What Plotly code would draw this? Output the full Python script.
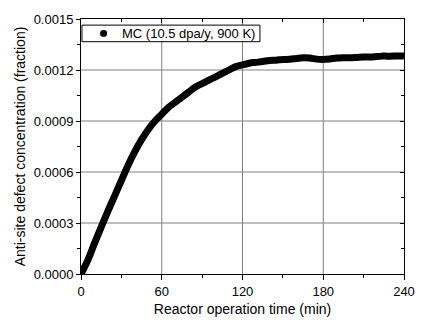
import plotly.graph_objects as go

# Monte Carlo anti-site defect concentration vs. reactor operation time
time_min = [0, 5, 10, 15, 20, 25, 30, 35, 40, 45, 50, 55, 60, 65, 70, 75, 80,
            85, 90, 95, 100, 105, 110, 115, 120, 125, 130, 135, 140, 145, 150,
            155, 160, 165, 170, 175, 180, 185, 190, 195, 200, 205, 210, 215,
            220, 225, 230, 235, 240]
antisite_frac = [0.0, 0.00008, 0.00018, 0.000276, 0.00037, 0.00046, 0.00055,
                 0.00064, 0.00072, 0.00079, 0.00085, 0.0009, 0.00094, 0.00098,
                 0.00101, 0.00104, 0.00107, 0.0011, 0.00112, 0.00114, 0.00116,
                 0.00118, 0.0012, 0.00122, 0.00123, 0.00124, 0.001245,
                 0.00125, 0.001256, 0.001258, 0.001262, 0.001263, 0.001268,
                 0.001272, 0.00127, 0.001264, 0.001262, 0.001265, 0.00127,
                 0.001272, 0.001272, 0.001274, 0.001276, 0.001276, 0.001279,
                 0.001282, 0.001281, 0.001283, 0.001282]

series_name = "MC (10.5 dpa/y, 900 K)"
x_ticks = [0, 60, 120, 180, 240]
x_minor = [30, 90, 150, 210]
y_ticks = [0.0, 0.0003, 0.0006, 0.0009, 0.0012, 0.0015]
y_minor = [0.00015, 0.00045, 0.00075, 0.00105, 0.00135]
y_tick_text = ["0.0000", "0.0003", "0.0006", "0.0009", "0.0012", "0.0015"]

FONT = "Liberation Sans, Arial, sans-serif"
GRID = "#808080"
X_RANGE = [0, 240]
Y_RANGE = [0, 0.0015]

fig = go.Figure()
fig.add_trace(go.Scatter(
    x=time_min, y=antisite_frac, mode="lines",
    line=dict(color="black", width=7, shape="spline", smoothing=1.0),
    showlegend=False, hoverinfo="skip",
))


def tick_axis(side, rng, vals, direction, length, overlay):
    """Label-free axis used only for extra tick marks."""
    return dict(overlaying=overlay, side=side, range=rng, tickvals=vals,
                showticklabels=False, showgrid=False, zeroline=False,
                showline=False, ticks=direction, ticklen=length,
                tickwidth=1, tickcolor="black")


fig.update_layout(
    width=432, height=335,
    margin=dict(l=81, r=28, t=17, b=61),
    paper_bgcolor="white", plot_bgcolor="rgba(0,0,0,0)",
    font=dict(family=FONT, color="black"),
    showlegend=False,
    xaxis=dict(
        range=X_RANGE, tickvals=x_ticks,
        showline=True, linecolor="black", linewidth=1, mirror=True,
        ticks="outside", ticklen=5, tickwidth=1, tickcolor="black",
        showgrid=False, zeroline=False,
        tickfont=dict(family=FONT, size=13, color="black"),
        title=dict(text="Reactor operation time (min)",
                   font=dict(family=FONT, size=14), standoff=6),
    ),
    yaxis=dict(
        range=Y_RANGE, tickvals=y_ticks, ticktext=y_tick_text,
        showline=True, linecolor="black", linewidth=1, mirror=True,
        ticks="outside", ticklen=4, tickwidth=1, tickcolor="black",
        showgrid=False, zeroline=False,
        tickfont=dict(family=FONT, size=13, color="black"),
        title=dict(text="Anti-site defect concentration (fraction)",
                   font=dict(family=FONT, size=14), standoff=4),
    ),
    # top / right major ticks, pointing inward
    xaxis2=tick_axis("top", X_RANGE, x_ticks, "inside", 4, "x"),
    yaxis2=tick_axis("right", Y_RANGE, y_ticks, "inside", 4, "y"),
    # bottom / left minor ticks, pointing outward
    xaxis3=tick_axis("bottom", X_RANGE, x_minor, "outside", 3, "x"),
    yaxis3=tick_axis("left", Y_RANGE, y_minor, "outside", 3, "y"),
    # top / right minor ticks, pointing inward
    xaxis4=tick_axis("top", X_RANGE, x_minor, "inside", 3, "x"),
    yaxis4=tick_axis("right", Y_RANGE, y_minor, "inside", 3, "y"),
)

# empty traces so the tick-only axes are laid out
for n in (2, 3, 4):
    fig.add_trace(go.Scatter(x=[None], y=[None], xaxis=f"x{n}", yaxis=f"y{n}",
                             showlegend=False, hoverinfo="skip"))

# grid lines at the interior major ticks
for xv in x_ticks[1:-1]:
    fig.add_shape(type="line", xref="x", yref="paper", x0=xv, x1=xv, y0=0, y1=1,
                  line=dict(color=GRID, width=1), layer="below")
for yv in y_ticks[1:-1]:
    fig.add_shape(type="line", xref="paper", yref="y", x0=0, x1=1, y0=yv, y1=yv,
                  line=dict(color=GRID, width=1), layer="below")

# legend box: frame, round symbol and series label
fig.add_shape(type="rect", xref="paper", yref="paper",
              x0=0.003, x1=0.554, y0=0.911, y1=0.976,
              line=dict(color="black", width=1), fillcolor="white", layer="above")
fig.add_shape(type="circle", xref="paper", yref="paper",
              x0=0.059, x1=0.081, y0=0.930, y1=0.957,
              line=dict(color="black", width=0), fillcolor="black", layer="above")
fig.add_annotation(text=series_name, xref="paper", yref="paper",
                   x=0.122, y=0.944, xanchor="left", yanchor="middle",
                   showarrow=False, font=dict(family=FONT, size=13, color="black"))

fig.write_html("out.html")
